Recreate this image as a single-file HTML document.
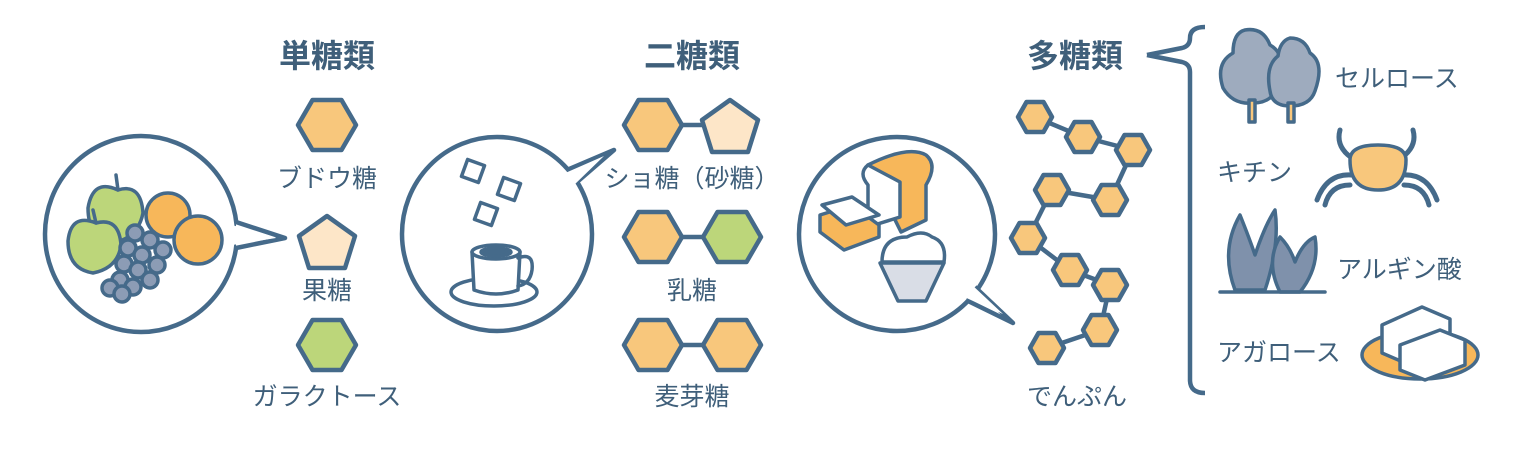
<!DOCTYPE html>
<html><head><meta charset="utf-8"><style>
html,body{margin:0;padding:0;background:#fff;}
svg{display:block}
text{font-family:"Liberation Sans","Noto Sans CJK JP",sans-serif;fill:#3f5f7a;}
</style></head><body>
<svg width="1524" height="457" viewBox="0 0 1524 457" xmlns="http://www.w3.org/2000/svg">
<defs>
<polygon id="hx" points="-29,0 -14.5,-25 14.5,-25 29,0 14.5,25 -14.5,25"/>
<polygon id="pt" points="0,-27 28,-7 18,25 -18,25 -28,-7"/>
<polygon id="sh" points="-17,0 -8.5,-15 8.5,-15 17,0 8.5,15 -8.5,15"/>
</defs>
<g font-size="32" font-weight="bold" text-anchor="middle">
<text x="327" y="67">単糖類</text>
<text x="692" y="67">二糖類</text>
<text x="1075" y="67">多糖類</text>
</g>

<g stroke="#456a8a" stroke-width="4.5" stroke-linejoin="round">
<use href="#hx" x="327" y="125" fill="#f8c77c"/>
<use href="#pt" x="327" y="243" fill="#fde6c8"/>
<use href="#hx" x="327" y="345" fill="#bcd67a"/>
<line x1="653" y1="125" x2="730" y2="125"/>
<use href="#hx" x="653" y="125" fill="#f8c77c"/>
<use href="#pt" x="730" y="127" fill="#fde6c8"/>
<line x1="653" y1="237" x2="732" y2="237"/>
<use href="#hx" x="653" y="237" fill="#f8c77c"/>
<use href="#hx" x="732" y="237" fill="#bcd67a"/>
<line x1="653" y1="345" x2="732" y2="345"/>
<use href="#hx" x="653" y="345" fill="#f8c77c"/>
<use href="#hx" x="732" y="345" fill="#f8c77c"/>
<polyline fill="none" points="1035,117 1083,137 1133,150 1110,200 1052,190 1028,238 1070,270 1110,285 1100,330 1047,348"/>
<g fill="#f8c77c">
<use href="#sh" x="1035" y="117"/><use href="#sh" x="1083" y="137"/><use href="#sh" x="1133" y="150"/>
<use href="#sh" x="1052" y="190"/><use href="#sh" x="1110" y="200"/><use href="#sh" x="1028" y="238"/>
<use href="#sh" x="1070" y="270"/><use href="#sh" x="1110" y="285"/><use href="#sh" x="1100" y="330"/>
<use href="#sh" x="1047" y="348"/>
</g>
<ellipse cx="141" cy="234" rx="96" ry="98" fill="#fff"/>
<polyline fill="#fff" points="236,222 285,238 236,248"/>
<polygon fill="#fff" stroke="none" points="232,225 276,238 232,245"/>
<ellipse cx="497" cy="234" rx="95" ry="97" fill="#fff"/>
<polyline fill="#fff" points="567,170 614,150 577,182"/>
<polygon fill="#fff" stroke="none" points="563,174 604,156 573,186"/>
<ellipse cx="897" cy="234" rx="98" ry="97" fill="#fff"/>
<polyline fill="#fff" points="975,287 1013,323 966,300"/>
<polygon fill="#fff" stroke="none" points="971,284 1003,314 962,296"/>
<path fill="none" d="M1147,55 L1182,48 Q1190,46 1190,38 Q1190,27 1205,27 M1147,55 L1182,62 Q1190,64 1190,72 L1190,380 Q1190,393 1205,393"/>
</g>

<g font-size="25" text-anchor="middle">
<text x="327" y="187">ブドウ糖</text>
<text x="327" y="299">果糖</text>
<text x="327" y="405">ガラクトース</text>
<text x="692" y="187">ショ糖（砂糖）</text>
<text x="692" y="299">乳糖</text>
<text x="692" y="405">麦芽糖</text>
<text x="1077" y="405">でんぷん</text>
</g>
<g font-size="25">
<text x="1335" y="87">セルロース</text>
<text x="1217" y="181">キチン</text>
<text x="1337" y="278">アルギン酸</text>
<text x="1217" y="361">アガロース</text>
</g>

<g stroke="#456a8a" stroke-width="3.5" stroke-linejoin="round" stroke-linecap="round">
<circle cx="168" cy="215" r="22" fill="#f7b75a"/>
<circle cx="198" cy="240" r="24" fill="#f7b75a"/>
<path fill="#bcd67a" d="M118,190 q-25,-12 -30,18 q0,30 25,35 q25,-5 30,-30 q-2,-30 -25,-23z"/>
<path fill="#bcd67a" d="M96,223 q-25,-10 -28,18 q0,28 25,32 q25,-5 28,-28 q-2,-28 -25,-22z"/>
<line x1="118" y1="190" x2="116" y2="175"/><line x1="96" y1="223" x2="93" y2="210"/>
<g fill="#8c9cb5">
<circle cx="135" cy="233" r="8"/><circle cx="150" cy="240" r="8"/><circle cx="163" cy="250" r="8"/>
<circle cx="128" cy="248" r="8"/><circle cx="142" cy="255" r="8"/><circle cx="157" cy="265" r="8"/>
<circle cx="124" cy="264" r="8"/><circle cx="138" cy="270" r="8"/><circle cx="150" cy="280" r="8"/>
<circle cx="120" cy="280" r="8"/><circle cx="133" cy="287" r="8"/><circle cx="110" cy="288" r="8"/><circle cx="122" cy="294" r="8"/>
</g>
<g fill="#fff">
<rect x="464" y="162" width="18" height="18" transform="rotate(20 473 171)"/><rect x="500" y="180" width="18" height="18" transform="rotate(20 509 189)"/><rect x="477" y="205" width="18" height="18" transform="rotate(20 486 214)"/>
<ellipse cx="494" cy="292" rx="43" ry="14"/>
<path d="M472,252 L474,290 q22,8 44,0 L520,252 z"/>
<path d="M518,258 q16,-6 14,12 q-2,14 -14,16" fill="none"/>
<ellipse cx="496" cy="252" rx="24" ry="7"/>
</g>
<ellipse cx="496" cy="252" rx="15" ry="4" fill="#456a8a"/>
<path fill="#f7b75a" d="M868,165 q40,-20 58,-10 q12,10 0,30 l0,35 l-25,12 z"/>
<path fill="#fff" d="M868,165 q-10,8 0,20 l0,42 l32,-10 l0,-35 z"/>
<path fill="#f7b75a" d="M820,215 l32,-10 l27,20 l0,12 l-35,13 l-24,-18z"/>
<path fill="#fff" d="M822,205 l30,-8 l27,18 l-33,10z"/>
<path fill="#d9dde6" d="M880,263 l18,38 l28,0 l18,-38 z"/>
<path fill="#fff" d="M882,262 q0,-25 25,-25 q15,-8 25,0 q15,5 12,25 z"/>
<path fill="#9eabbe" d="M1245,30 q18,-3 25,15 q18,10 8,40 q-5,18 -25,18 q-20,2 -30,-15 q-8,-25 10,-35 q0,-20 12,-23z"/>
<path fill="#9eabbe" d="M1290,38 q15,0 20,15 q15,10 5,38 q-5,15 -25,15 q-18,0 -20,-15 q-5,-25 8,-35 q2,-15 12,-18z"/>
<rect x="1249" y="100" width="6" height="22" fill="#f8c77c"/><rect x="1288" y="103" width="6" height="19" fill="#f8c77c"/>
<path fill="none" stroke-width="5" d="M1352,175 q-25,-2 -35,25 M1350,185 q-20,0 -25,20 M1402,175 q25,-2 35,25 M1404,185 q20,0 25,20 M1355,160 q-20,-12 -15,-30 M1398,160 q20,-12 15,-30"/>
<path fill="#f8c77c" d="M1350,160 q0,-15 28,-15 q28,0 28,15 q0,30 -28,30 q-28,0 -28,-30z"/>
<path fill="#7f91ab" d="M1235,290 q-15,-40 5,-75 q10,25 15,40 q10,-30 20,-45 q5,35 -10,80 z"/>
<path fill="#7f91ab" d="M1280,292 q-15,-30 0,-55 q10,10 15,25 q8,-20 20,-25 q5,30 -15,55z"/>
<line x1="1220" y1="292" x2="1325" y2="292"/>
<ellipse cx="1420" cy="355" rx="58" ry="24" fill="#f7b75a"/>
<path fill="#fff" d="M1382,325 l40,-18 l28,12 l0,28 l-40,18 l-28,-12z"/>
<path fill="#fff" d="M1400,345 l40,-15 l25,10 l0,25 l-40,15 l-25,-10z"/>
</g>
</svg>
</body></html>
